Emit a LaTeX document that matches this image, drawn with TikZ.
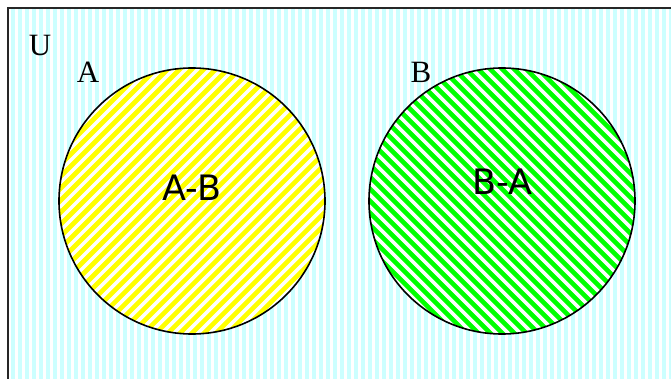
\documentclass[tikz,border=0pt]{standalone}
\usepackage{fontspec}
\setmainfont{Liberation Serif}
\newfontfamily\setfont{DejaVu Sans}
\usepackage{xcolor}
\usetikzlibrary{positioning}
\definecolor{ucyan}{RGB}{204,255,255}
\definecolor{syellow}{RGB}{255,255,0}
\definecolor{sgreen}{RGB}{0,255,0}
\tikzset{
  setlabel/.style={font=\fontsize{31}{31}\selectfont},
  difflabel/.style={font=\setfont\fontsize{35}{35}\selectfont},
  rim/.style={draw=black,line width=1.6pt}
}

\begin{document}
\begin{tikzpicture}[x=1pt,y=-1pt]
  \useasboundingbox (0,0) rectangle (671,379);

  % universe: light cyan vertical stripes
  \begin{scope}
    \clip (8,8) rectangle (671,379);
    \foreach \x in {11,18,...,671}
      \fill[ucyan] (\x,8) rectangle ++(3.5,371);
  \end{scope}
  \draw[line width=2.4pt,black!85] (671,8) -- (8,8) -- (8,379);

  % set A, stripes rising to the right
  \fill[white] (192,201) circle (133pt);
  \begin{scope}
    \clip (192,201) circle (133pt);
    \foreach \k in {-300,-288,...,300}
      \draw[syellow,line width=4.6pt] (192+\k-150,351) -- (192+\k+150,51);
  \end{scope}
  \draw[rim] (192,201) circle (133pt);

  % set B, stripes falling to the right
  \fill[white] (502,201) circle (133pt);
  \begin{scope}
    \clip (502,201) circle (133pt);
    \foreach \k in {-300,-288,...,300}
      \draw[sgreen,line width=4.6pt] (502+\k-150,51) -- (502+\k+150,351);
  \end{scope}
  \draw[rim] (502,201) circle (133pt);

  \node[setlabel] (U) at (40,46) {U};
  \node[setlabel] (A) at (88,72) {A};
  \node[setlabel] (B) at (421,72) {B};
  \node[difflabel] (AmB) at (192,188) {A-B};
  \node[difflabel] (BmA) at (502,182) {B-A};
\end{tikzpicture}
\end{document}
